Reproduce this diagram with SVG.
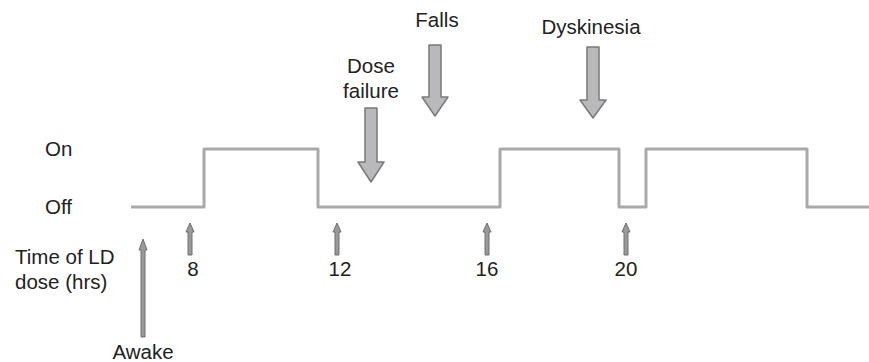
<svg xmlns="http://www.w3.org/2000/svg" width="869" height="362" viewBox="0 0 869 362">
<style>
text{font-family:"Liberation Sans",Arial,sans-serif;font-size:20.5px;fill:#222}
.wave{fill:none;stroke:#a9a9ab;stroke-width:3;stroke-linejoin:round}
.big{fill:#b9b9bb;stroke:#7a7a7c;stroke-width:1.5;stroke-linejoin:round}
.up{fill:#9a9a9c;stroke:#6e6e70;stroke-width:1}
</style>
<rect width="869" height="362" fill="#fff"/>
<g id="labels">
<text x="45" y="156">On</text>
<text x="45" y="214">Off</text>
<text x="15" y="264">Time of LD</text>
<text x="15" y="289">dose (hrs)</text>
</g>
<g id="connectors">
<path class="wave" d="M131,207 H204 V149 H318 V207 H500 V149 H619 V207 H646 V149 H807 V207 H869"/>
</g>
<g id="dose-failure">
<text x="371" y="73" text-anchor="middle">Dose</text>
<text x="371" y="98" text-anchor="middle">failure</text>
<path class="big" d="M365,108 H377 V162 H384 L371,182 L358,162 H365 Z"/>
</g>
<g id="falls">
<text x="437" y="27" text-anchor="middle">Falls</text>
<path class="big" d="M429,45 H441 V97 H448 L435,116 L422,97 H429 Z"/>
</g>
<g id="dyskinesia">
<text x="591" y="34" text-anchor="middle">Dyskinesia</text>
<path class="big" d="M587,47 H599 V100 H606 L593,118 L580,100 H587 Z"/>
</g>
<g id="awake">
<path class="up" d="M141,337 V250 H139 L143,239 L147,250 H145 V337 Z"/>
<text x="143" y="359" text-anchor="middle">Awake</text>
</g>
<g id="t8">
<path class="up" d="M188,255 V232 H186 L190,223 L194,232 H192 V255 Z"/>
<text x="193" y="276" text-anchor="middle">8</text>
</g>
<g id="t12">
<path class="up" d="M335,255 V232 H333 L337,223 L341,232 H339 V255 Z"/>
<text x="340" y="276" text-anchor="middle">12</text>
</g>
<g id="t16">
<path class="up" d="M485,255 V232 H483 L487,223 L491,232 H489 V255 Z"/>
<text x="487" y="276" text-anchor="middle">16</text>
</g>
<g id="t20">
<path class="up" d="M624,255 V232 H622 L626,223 L630,232 H628 V255 Z"/>
<text x="626" y="276" text-anchor="middle">20</text>
</g>
</svg>
